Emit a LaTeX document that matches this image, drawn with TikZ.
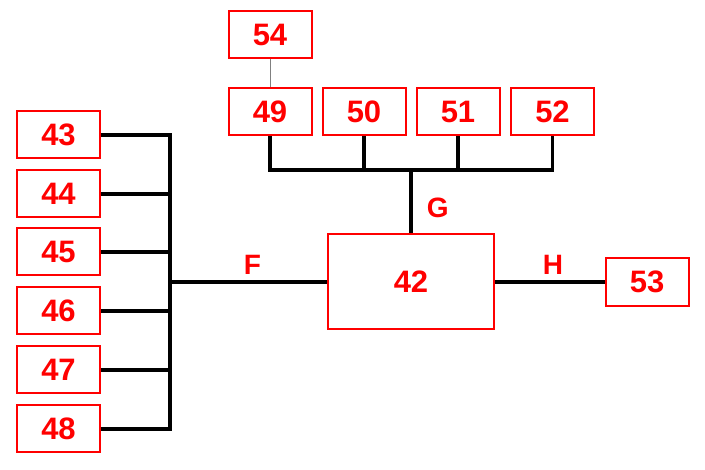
\documentclass[tikz,border=0pt]{standalone}
\usepackage{fontspec}
\setmainfont{Liberation Sans}
\usetikzlibrary{backgrounds}
\begin{document}
\begin{tikzpicture}[x=1pt,y=-1pt,
  box/.style={draw=red,line width=2pt,fill=white,text=red,font=\bfseries\fontsize{31}{31}\selectfont,minimum width=83pt,minimum height=47pt,inner sep=0pt},
  bus/.style={line width=3.8pt,black},
  thin/.style={gray,line width=0.9pt},
  lbl/.style={text=red,font=\bfseries\fontsize{28}{28}\selectfont,inner sep=0pt}]
\useasboundingbox (0,0) rectangle (705,470);
% left boxes
\node[box] (n43) at (58.5,135) {43};
\node[box] (n44) at (58.5,194) {44};
\node[box] (n45) at (58.5,252) {45};
\node[box] (n46) at (58.5,311) {46};
\node[box] (n47) at (58.5,370) {47};
\node[box] (n48) at (58.5,429) {48};
% top boxes
\node[box] (n54) at (270,35) {54};
\node[box] (n49) at (270,112) {49};
\node[box] (n50) at (364,112) {50};
\node[box] (n51) at (458,112) {51};
\node[box] (n52) at (552.5,112) {52};
% main
\node[box,minimum width=166pt,minimum height=95pt] (n42) at (411,282) {42};
\node[box,minimum height=48pt] (n53) at (647,282) {53};
% junctions
\coordinate (lb) at (170,282);
\coordinate (tb) at (411,170);
\begin{scope}[on background layer]
% left bus
\draw[bus] (n43.east) -- (n43.east -| lb) -- (n48.east -| lb) -- (n48.east);
\draw[bus] (n44.east) -- (n44.east -| lb);
\draw[bus] (n45.east) -- (n45.east -| lb);
\draw[bus] (n46.east) -- (n46.east -| lb);
\draw[bus] (n47.east) -- (n47.east -| lb);
\draw[bus] (lb) -- (n42.west) node[lbl,midway,above=6pt,xshift=4pt] {F};
% top bus
\draw[bus] (n49.south) -- (n49.south |- tb) -- (n52.south |- tb) -- (n52.south);
\draw[bus] (n50.south) -- (n50.south |- tb);
\draw[bus] (n51.south) -- (n51.south |- tb);
\draw[bus] (tb) -- (n42.north) node[lbl,midway,right=14pt,yshift=-6pt] {G};
% right
\draw[bus] (n42.east) -- (n53.west) node[lbl,pos=0.53,above=6pt] {H};
% 54-49
\draw[thin] (n54.south) -- (n49.north);
\end{scope}
\end{tikzpicture}
\end{document}
